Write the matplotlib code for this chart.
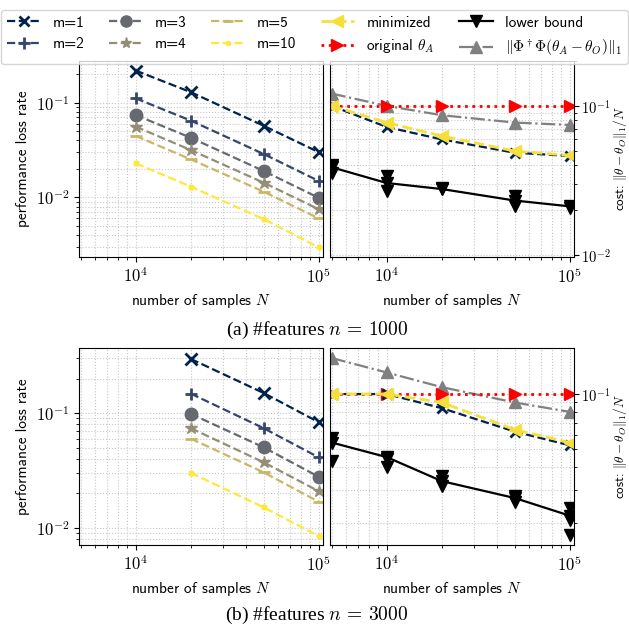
import matplotlib
matplotlib.use("Agg")
import matplotlib.pyplot as plt
from matplotlib.lines import Line2D
from matplotlib.ticker import FuncFormatter, LogLocator
import numpy as np

plt.rcParams['font.family'] = ['cmss10', 'DejaVu Sans']
plt.rcParams['mathtext.fontset'] = 'cm'
plt.rcParams['axes.unicode_minus'] = True

# ---------------- data ----------------
m_labels = ["m=1", "m=2", "m=3", "m=4", "m=5", "m=10"]

# (a) n = 1000
N_left_a = [1e4, 2e4, 5e4, 1e5]
loss_a = {
    "m=1": [0.218, 0.129, 0.057, 0.030],
    "m=2": [0.111, 0.0646, 0.0287, 0.0149],
    "m=3": [0.074, 0.0426, 0.019, 0.0099],
    "m=4": [0.0558, 0.0316, 0.0143, 0.0075],
    "m=5": [0.0445, 0.0252, 0.0115, 0.0060],
    "m=10": [0.0229, 0.013, 0.0059, 0.00297],
}
N_right = [5e3, 1e4, 2e4, 5e4, 1e5]
cost_m1_a = [0.1, 0.0722, 0.0596, 0.0485, 0.0462]
minimized_a = [0.1, 0.0773, 0.0628, 0.0498, 0.0466]
original_a = [0.1, 0.1, 0.1, 0.1, 0.1]
phi_a = [0.121, 0.1, 0.0866, 0.0773, 0.0745]
lower_a = [0.0388, 0.0304, 0.0277, 0.0232, 0.0212]
lower_trials_N_a = [5e3, 5e3, 1e4, 1e4, 2e4, 5e4, 5e4, 1e5]
lower_trials_a = [0.0404, 0.0356, 0.0337, 0.0267, 0.0282, 0.0247, 0.0212, 0.0207]

# (b) n = 3000
N_left_b = [2e4, 5e4, 1e5]
loss_b = {
    "m=1": [0.297, 0.150, 0.0834],
    "m=2": [0.148, 0.074, 0.0412],
    "m=3": [0.0986, 0.0504, 0.0279],
    "m=4": [0.074, 0.0373, 0.0209],
    "m=5": [0.060, 0.0305, 0.0169],
    "m=10": [0.0302, 0.0151, 0.0085],
}
cost_m1_b = [0.1, 0.1, 0.0838, 0.0625, 0.0526]
minimized_b = [0.1, 0.1, 0.090, 0.064, 0.0545]
original_b = [0.1, 0.1, 0.1, 0.1, 0.1]
phi_b = [0.157, 0.131, 0.109, 0.090, 0.080]
lower_b = [0.0545, 0.0454, 0.0336, 0.0272, 0.0218]
lower_trials_N_b = [5e3, 5e3, 1e4, 1e4, 2e4, 2e4, 5e4, 5e4, 1e5, 1e5, 1e5]
lower_trials_b = [0.058, 0.0433, 0.0445, 0.040, 0.0358, 0.0316, 0.0278, 0.026, 0.024, 0.0207, 0.0172]

captions = [r"(a) #features $n\,=\,1000$", r"(b) #features $n\,=\,3000$"]

# ---------------- styles ----------------
cmap = plt.get_cmap("cividis")
m_colors = [cmap(v) for v in np.linspace(0, 1, 6)]
m_markers = ["x", "+", "o", "*", "_", "."]
m_msize = [8, 9, 9, 9, 8, 7]
col_min = "#f5e03a"

W, H = 629, 635
fig = plt.figure(figsize=(W / 100, H / 100), dpi=100)

def fx(px):
    return px / W

def fy(py):
    return 1 - py / H

rows = [
    dict(top=61, bottom=257, N_left=N_left_a, loss=loss_a, cost_m1=cost_m1_a, mini=minimized_a,
         orig=original_a, phi=phi_a, lower=lower_a, ltN=lower_trials_N_a, lt=lower_trials_a,
         yl=(0.00235, 0.275), yr=(0.0097, 0.2), cap_y=330),
    dict(top=348, bottom=545, N_left=N_left_b, loss=loss_b, cost_m1=cost_m1_b, mini=minimized_b,
         orig=original_b, phi=phi_b, lower=lower_b, ltN=lower_trials_N_b, lt=lower_trials_b,
         yl=(0.0071, 0.37), yr=(0.0151, 0.178), cap_y=615),
]

xlim = (4900, 1.055e5)
lab_fs = 11
tick_fs = 12

pow_fmt = FuncFormatter(lambda v, pos: r"$10^{%d}$" % int(round(np.log10(v))))

def style(ax):
    ax.set_xscale("log")
    ax.set_yscale("log")
    ax.grid(True, which="both", linestyle=":", color="#c8c8c8", linewidth=0.8)
    ax.set_xlim(*xlim)
    for axis in (ax.xaxis, ax.yaxis):
        axis.set_major_locator(LogLocator(base=10, numticks=10))
        axis.set_major_formatter(pow_fmt)
    ax.tick_params(labelsize=tick_fs)
    ax.set_xlabel(r"number of samples $N$", fontsize=lab_fs)

for i, r in enumerate(rows):
    h = r["bottom"] - r["top"]
    axl = fig.add_axes([fx(79), fy(r["bottom"]), fx(323 - 79), h / H])
    axr = fig.add_axes([fx(330), fy(r["bottom"]), fx(574 - 330), h / H])
    for ax in (axl, axr):
        style(ax)
    for k, lab in enumerate(m_labels):
        axl.plot(r["N_left"], r["loss"][lab], linestyle="--", color=m_colors[k], marker=m_markers[k],
                 markersize=m_msize[k], markeredgewidth=2 if m_markers[k] in "x+_" else 1, lw=1.6)
    axl.set_ylim(*r["yl"])
    axl.set_ylabel("performance loss rate", fontsize=lab_fs)

    axr.plot(N_right, r["phi"], linestyle="-.", color="grey", marker="^", markersize=9, lw=1.6)
    axr.plot(N_right, r["orig"], linestyle=":", color="red", marker=">", markersize=9, lw=2)
    axr.plot(N_right, r["cost_m1"], linestyle="--", color=m_colors[0], marker="x", markersize=7,
             markeredgewidth=2, lw=1.6)
    axr.plot(N_right, r["mini"], linestyle="--", color=col_min, marker="<", markersize=9, lw=2)
    axr.plot(N_right, r["lower"], linestyle="-", color="black", marker="v", markersize=9, lw=1.6)
    axr.plot(r["ltN"], r["lt"], linestyle="none", color="black", marker="v", markersize=9)
    axr.set_ylim(*r["yr"])
    axr.yaxis.tick_right()
    axr.tick_params(axis="y", labelsize=10.5, pad=1.5)
    axr.yaxis.set_label_position("right")
    axr.set_ylabel(r"cost: $\|\theta-\theta_O\|_1/N$", fontsize=9.5)
    axr.yaxis.label.set_verticalalignment("center")
    axr.yaxis.label.set_horizontalalignment("center")
    axr.yaxis.set_label_coords((620 - 330) / 244, 0.5)

    fig.text(0.5035, fy(r["cap_y"]), captions[i], ha="center", va="center",
             fontsize=14, family=["Liberation Serif"])

handles = []
for k, lab in enumerate(m_labels):
    handles.append(Line2D([], [], linestyle="--", color=m_colors[k], marker=m_markers[k],
                          markersize=m_msize[k] - 1, markeredgewidth=2 if m_markers[k] in "x+_" else 1,
                          lw=1.6, label=lab))
handles.append(Line2D([], [], linestyle="--", color=col_min, marker="<", markersize=8, lw=2, label="minimized"))
handles.append(Line2D([], [], linestyle=":", color="red", marker=">", markersize=8, lw=2, label=r"original $\theta_A$"))
handles.append(Line2D([], [], linestyle="-", color="black", marker="v", markersize=8, lw=1.6, label="lower bound"))
handles.append(Line2D([], [], linestyle="-.", color="grey", marker="^", markersize=8, lw=1.6,
                      label=r"$\|\Phi^\dagger\Phi(\theta_A-\theta_O)\|_1$"))

fig.legend(handles=handles, ncol=5, loc="upper center", bbox_to_anchor=(0.5, 1 - 2 / H),
           fontsize=11, frameon=True, handlelength=2.2, columnspacing=1.6, handletextpad=0.8,
           borderpad=0.4, labelspacing=0.5)

fig.savefig("out.png", dpi=100)
